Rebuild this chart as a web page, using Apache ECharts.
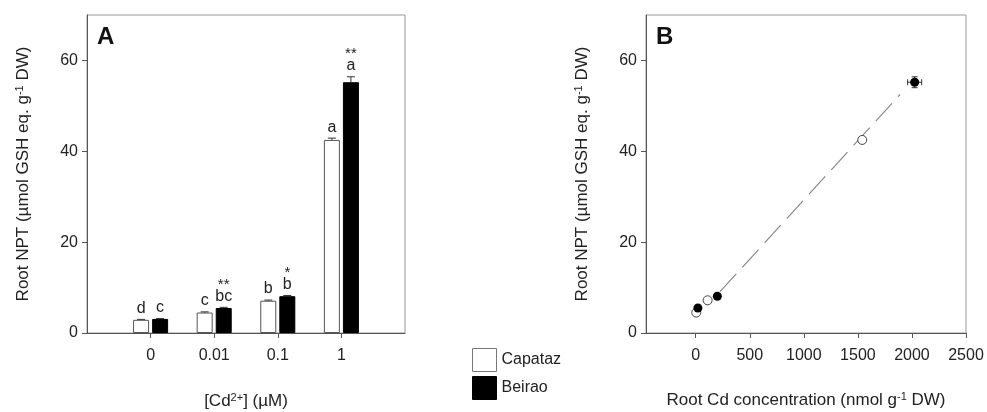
<!DOCTYPE html>
<html>
<head>
<meta charset="utf-8">
<script src="https://cdn.jsdelivr.net/npm/echarts@6/dist/echarts.min.js"></script>
<style>
  html, body { margin: 0; background: #fff; }
  #chart { width: 987px; height: 412px; }
</style>
</head>
<body>
<div id="chart"></div>
<script>
// panel A: root NPT per Cd dose
const doses = ["0", "0.01", "0.1", "1"];
const capataz = [2.9, 4.5, 7.1, 42.5];
const beirao = [3.1, 5.5, 8.1, 55.2];
const capatazErr = [0.1, 0.15, 0.15, 0.4];
const beiraoErr = [0.1, 0.15, 0.15, 1.2];
const capatazLetters = ["d", "c", "b", "a"];
const beiraoLetters = ["c", "bc", "b", "a"];
const beiraoStars = ["", "**", "*", "**"];

// panel B: root NPT vs root Cd
const capatazCd = [[5, 4.5], [110, 7.2], [1540, 42.5]];
const beiraoCd = [[20, 5.5], [200, 8.1], [2025, 55.2]];
const capatazCdErr = [[4, 0.2], [10, 0.2], [30, 0.4]];   // [x err, y err]
const beiraoCdErr = [[5, 0.2], [10, 0.2], [65, 1.2]];
const fitLine = [[225, 9.1], [1890, 52.5]];

const yTicks = [0, 20, 40, 60];
const xTicksB = [0, 500, 1000, 1500, 2000, 2500];

const FONT = "Liberation Sans, Arial, sans-serif";
const TEXT = "#222";
const AXIS = "#555";

const cats = [""].concat(doses, [""]);
const pad = arr => ["-"].concat(arr, ["-"]);

const HALF = 9.5; // distance from category tick to bar centre

function barErrors(values, errs, letters, stars, dir) {
  return function (params, api) {
    const i = params.dataIndex;
    const top = api.coord([i + 1, values[i] + errs[i]]);
    const base = api.coord([i + 1, values[i]]);
    const x = top[0] + dir * HALF;
    const ls = { stroke: "#333", lineWidth: 1 };
    const kids = [
      { type: "line", shape: { x1: x, y1: base[1], x2: x, y2: top[1] }, style: ls },
      { type: "line", shape: { x1: x - 4, y1: top[1], x2: x + 4, y2: top[1] }, style: ls },
      { type: "text", x: x, y: top[1] - 3,
        style: { text: letters[i], fill: TEXT, font: "16px " + FONT, align: "center", verticalAlign: "bottom" } }
    ];
    if (stars && stars[i]) {
      kids.push({ type: "text", x: x, y: top[1] - 15,
        style: { text: stars[i], fill: TEXT, font: "15px " + FONT, align: "center", verticalAlign: "bottom" } });
    }
    return { type: "group", children: kids };
  };
}

function xyErrors(points, errs) {
  return function (params, api) {
    const i = params.dataIndex;
    const p = points[i], e = errs[i];
    const l = api.coord([p[0] - e[0], p[1]]), r = api.coord([p[0] + e[0], p[1]]);
    const t = api.coord([p[0], p[1] + e[1]]), b = api.coord([p[0], p[1] - e[1]]);
    const ls = { stroke: "#333", lineWidth: 1 };
    return { type: "group", children: [
      { type: "line", shape: { x1: l[0], y1: l[1], x2: r[0], y2: r[1] }, style: ls },
      { type: "line", shape: { x1: l[0], y1: l[1] - 3, x2: l[0], y2: l[1] + 3 }, style: ls },
      { type: "line", shape: { x1: r[0], y1: r[1] - 3, x2: r[0], y2: r[1] + 3 }, style: ls },
      { type: "line", shape: { x1: t[0], y1: t[1], x2: b[0], y2: b[1] }, style: ls },
      { type: "line", shape: { x1: t[0] - 3, y1: t[1], x2: t[0] + 3, y2: t[1] }, style: ls },
      { type: "line", shape: { x1: b[0] - 3, y1: b[1], x2: b[0] + 3, y2: b[1] }, style: ls }
    ] };
  };
}

const rich = { sup: { fontSize: 11, verticalAlign: "top", color: TEXT, fontFamily: FONT, padding: [0, 0, 8, 0] } };
const nameStyle = { color: TEXT, fontSize: 17, fontFamily: FONT, rich: rich };

function yAxis(grid) {
  return {
    gridIndex: grid, type: "value", min: 0, max: 70,
    name: "Root NPT (µmol GSH eq. g{sup|-1} DW)", nameLocation: "middle", nameGap: 54,
    nameTextStyle: nameStyle,
    axisLine: { show: true, onZero: false, lineStyle: { color: AXIS } },
    axisTick: { show: true, inside: false, length: 5, customValues: yTicks, lineStyle: { color: AXIS } },
    axisLabel: { customValues: yTicks, margin: 9, color: TEXT, fontSize: 16, fontFamily: FONT },
    splitLine: { show: false }
  };
}

const chart = echarts.init(document.getElementById("chart"));
chart.setOption({
  backgroundColor: "#fff",
  animation: false,
  textStyle: { fontFamily: FONT },
  title: [
    { text: "A", left: 92, top: 20, textStyle: { fontSize: 24, fontWeight: "bold", color: "#111", fontFamily: FONT } },
    { text: "B", left: 651, top: 20, textStyle: { fontSize: 24, fontWeight: "bold", color: "#111", fontFamily: FONT } }
  ],
  legend: {
    orient: "vertical", left: 467, top: 343, itemWidth: 24, itemHeight: 23, itemGap: 4,
    textStyle: { color: TEXT, fontSize: 16, fontFamily: FONT },
    selectedMode: false,
    data: [
      { name: "Capataz", icon: "rect", itemStyle: { color: "#fff", borderColor: "#777", borderWidth: 1 } },
      { name: "Beirao", icon: "rect", itemStyle: { color: "#000", borderColor: "#000", borderWidth: 1 } }
    ]
  },
  grid: [
    { left: 87, top: 15, width: 318, height: 318, outerBoundsMode: "none", containLabel: false,
      show: true, borderColor: "#999", borderWidth: 1, backgroundColor: "transparent" },
    { left: 646, top: 15, width: 320, height: 318, outerBoundsMode: "none", containLabel: false,
      show: true, borderColor: "#999", borderWidth: 1, backgroundColor: "transparent" }
  ],
  xAxis: [
    {
      gridIndex: 0, type: "category", data: cats, boundaryGap: false,
      name: "[Cd{sup|2+}] (µM)", nameLocation: "middle", nameGap: 59, nameTextStyle: nameStyle,
      axisLine: { onZero: false, lineStyle: { color: AXIS } },
      axisTick: { length: 5, interval: i => i > 0 && i < cats.length - 1, lineStyle: { color: AXIS } },
      axisLabel: { margin: 15, color: TEXT, fontSize: 16, fontFamily: FONT, interval: 0 }
    },
    {
      gridIndex: 1, type: "value", min: -460, max: 2500,
      name: "Root Cd concentration (nmol g{sup|-1} DW)", nameLocation: "middle", nameGap: 58, nameTextStyle: nameStyle,
      axisLine: { onZero: false, lineStyle: { color: AXIS } },
      axisTick: { length: 5, customValues: xTicksB, lineStyle: { color: AXIS } },
      axisLabel: { customValues: xTicksB, formatter: v => String(v), margin: 15, color: TEXT, fontSize: 16, fontFamily: FONT },
      splitLine: { show: false }
    }
  ],
  yAxis: [yAxis(0), yAxis(1)],
  series: [
    {
      name: "Capataz", type: "bar", xAxisIndex: 0, yAxisIndex: 0, data: pad(capataz),
      barWidth: 16, barGap: "19%",
      itemStyle: { color: "#fff", borderColor: "#555", borderWidth: 1 }
    },
    {
      name: "Beirao", type: "bar", xAxisIndex: 0, yAxisIndex: 0, data: pad(beirao),
      barWidth: 16,
      itemStyle: { color: "#000", borderColor: "#000", borderWidth: 1 }
    },
    {
      type: "custom", xAxisIndex: 0, yAxisIndex: 0, clip: false, z: 5,
      data: capataz.map((v, i) => [i + 1, v]),
      renderItem: barErrors(capataz, capatazErr, capatazLetters, null, -1)
    },
    {
      type: "custom", xAxisIndex: 0, yAxisIndex: 0, clip: false, z: 5,
      data: beirao.map((v, i) => [i + 1, v]),
      renderItem: barErrors(beirao, beiraoErr, beiraoLetters, beiraoStars, 1)
    },
    {
      type: "line", xAxisIndex: 1, yAxisIndex: 1, data: fitLine, symbol: "none",
      lineStyle: { color: "#888", width: 1.2, type: [24, 9] }, z: 1
    },
    {
      type: "custom", xAxisIndex: 1, yAxisIndex: 1, z: 2,
      data: capatazCd, renderItem: xyErrors(capatazCd, capatazCdErr)
    },
    {
      type: "custom", xAxisIndex: 1, yAxisIndex: 1, z: 2,
      data: beiraoCd, renderItem: xyErrors(beiraoCd, beiraoCdErr)
    },
    {
      name: "Capataz", type: "scatter", xAxisIndex: 1, yAxisIndex: 1, data: capatazCd,
      symbolSize: 9, itemStyle: { color: "#fff", borderColor: "#444", borderWidth: 1, opacity: 1 }, z: 3
    },
    {
      name: "Beirao", type: "scatter", xAxisIndex: 1, yAxisIndex: 1, data: beiraoCd,
      symbolSize: 9, itemStyle: { color: "#000", opacity: 1 }, z: 3
    }
  ]
});
</script>
</body>
</html>
